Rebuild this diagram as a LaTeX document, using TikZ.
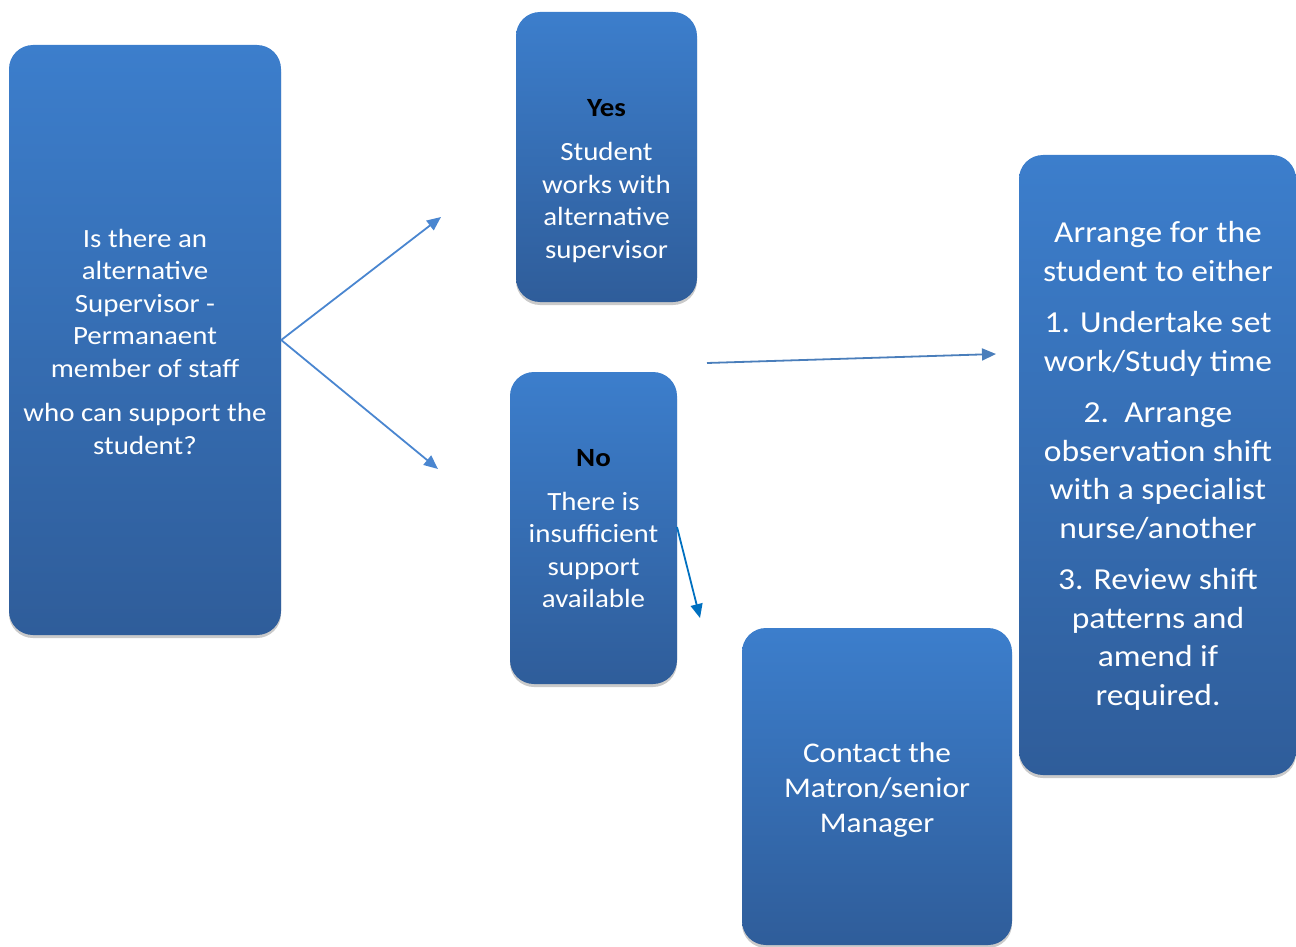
\documentclass[tikz,border=0pt]{standalone}
\usepackage{fontspec}
\setmainfont{Carlito}[FakeStretch=1.1]
\usetikzlibrary{shadows,arrows.meta}
\definecolor{boxtop}{HTML}{3C7ECC}
\definecolor{boxbot}{HTML}{2F5D9A}
\definecolor{arrowblue}{HTML}{4A86D0}
\definecolor{arrowdark}{HTML}{4A7EBB}
\definecolor{arrowdeep}{HTML}{0070C0}
\tikzset{
  bluebox/.style={rectangle, rounded corners=24pt, inner sep=0pt, top color=boxtop, bottom color=boxbot, draw=none,
    drop shadow={opacity=0.35, shadow xshift=0pt, shadow yshift=-3pt, fill=black!60}},
  boxtext/.style={align=center, text=white, inner sep=0pt},
  conn/.style={draw=arrowblue, line width=1.8pt, -{Triangle[length=14pt,width=12pt]}},
}
\begin{document}
\begin{tikzpicture}[x=1pt,y=-1pt]
\useasboundingbox (0,0) rectangle (1296,947);
% boxes
\node[bluebox, minimum width=272pt, minimum height=590pt] (q) at (145,340) {};
\node[bluebox, minimum width=181pt, minimum height=290pt] (yes) at (606.5,157) {};
\node[bluebox, minimum width=167pt, minimum height=312pt] (no) at (593.5,528) {};
\node[bluebox, minimum width=270pt, minimum height=317pt] (contact) at (877,786.5) {};
\node[bluebox, minimum width=277pt, minimum height=620pt] (arr) at (1157.5,465) {};
% texts
\node[boxtext, font=\fontsize{26.3}{32.5}\selectfont] (qt) at (145,341.5)
  {Is there an\\alternative\\Supervisor -\\Permanaent\\member of staff\\[12pt]who can support the\\student?};
\node[boxtext, font=\fontsize{26.3}{32.5}\selectfont] (yt) at (606.5,181)
  {\textcolor{black}{\textbf{Yes}}\\[12pt]Student\\works with\\alternative\\supervisor};
\node[boxtext, font=\fontsize{26.3}{32.5}\selectfont] (nt) at (593.5,529)
  {\textcolor{black}{\textbf{No}}\\[11pt]There is\\insufficient\\support\\available};
\node[boxtext, font=\fontsize{28.5}{35}\selectfont] (ct) at (877,790)
  {Contact the\\Matron/senior\\Manager};
\node[boxtext, font=\fontsize{30.5}{38.5}\selectfont] (at) at (1158,466)
  {Arrange for the\\student to either\\[13pt]1. Undertake set\\work/Study time\\[13pt]2.\ \ Arrange\\observation shift\\with a specialist\\nurse/another\\[13pt]3. Review shift\\patterns and\\amend if\\required.};
% connector endpoints
\coordinate (e1) at (441,217);
\coordinate (e2) at (438,469);
\coordinate (s3) at (707,363);
\coordinate (e3) at (996,354);
\coordinate (s4) at (677,527);
\coordinate (e4) at (700,618);
% connectors
\draw[conn] (q.east) -- (e1);
\draw[conn] (q.east) -- (e2);
\draw[conn, draw=arrowdark] (s3) -- (e3);
\draw[conn, draw=arrowdeep] (s4) -- (e4);
\end{tikzpicture}
\end{document}
